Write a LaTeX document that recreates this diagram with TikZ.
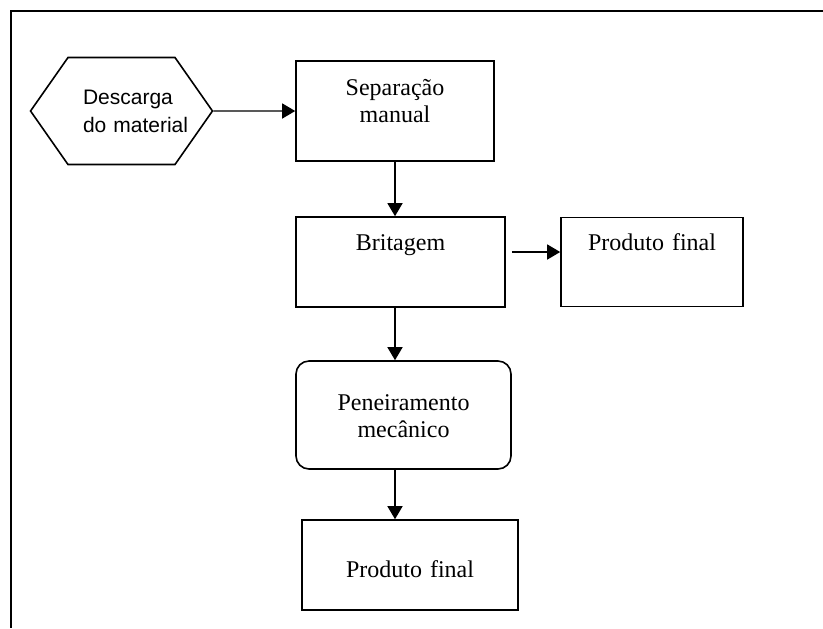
\documentclass[tikz,border=0pt]{standalone}
\usepackage{fontspec}
\setmainfont{Liberation Serif}
\newfontfamily\arialfont{Liberation Sans}
\usepackage{tikz}
\usetikzlibrary{shapes, shapes.symbols, arrows.meta}
\tikzstyle{start} = [signal, signal to=west and east, signal pointer angle=110,
    draw, line width=0.8pt, minimum width=90.5pt, minimum height=53.5pt,
    inner xsep=0pt, text width=53.5pt, align=left,
    font=\arialfont\fontsize{10.5}{14}\selectfont]
\tikzstyle{stage} = [rectangle, draw, line width=0.8pt, inner ysep=0pt,
    text width=80pt, align=center, font=\fontsize{12}{13.5}\selectfont]
\tikzstyle{sieve} = [stage, rounded corners=6.5pt]
\tikzstyle{line} = [draw, line width=0.7pt, -{Triangle[length=6.5pt,width=7.5pt]}]

\begin{document}
\begin{tikzpicture}[x=0.5pt, y=-0.5pt]
    \useasboundingbox (0,0) rectangle (823,628);
    % Frame
    \draw [line width=1.2pt] (823,11) -- (11,11) -- (11,628);
    % Nodes
    \node [start] (descarga) at (121.5,111) {\hspace*{7.5pt}\mbox{Descarga}\\\hspace*{7.5pt}\mbox{do material}};
    \node [stage, right of=descarga, node distance=136.75pt, minimum width=99pt,
        text height=17pt, text depth=33pt] (separacao) {Separação\\manual};
    \node [stage, below of=separacao, node distance=75.5pt, xshift=2.75pt, minimum width=104.5pt,
        text height=16.5pt, text depth=28.5pt] (britagem) {Britagem};
    \node [stage, right of=britagem, node distance=125.75pt, minimum width=91pt,
        text height=16.5pt, text depth=28pt] (produto1) {Produto final};
    \node [sieve, below of=britagem, node distance=76.5pt, xshift=1.5pt, minimum width=107.5pt,
        text height=24.5pt, text depth=29.5pt] (peneiramento) {Peneiramento\\mecânico};
    \node [stage, below of=peneiramento, node distance=75pt, xshift=3.25pt, minimum width=108pt,
        text height=28.5pt, text depth=16.5pt] (produto2) {Produto final};
    % Edges
    \path [line] (descarga) -- (separacao);
    \path [line] (separacao) -- (separacao |- britagem.north);
    \path [line] ([xshift=3pt,yshift=5pt]britagem.east) -- ([yshift=5pt]britagem.east -| produto1.west);
    \path [line] (britagem.south -| separacao) -- (peneiramento.north -| separacao);
    \path [line] (peneiramento.south -| separacao) -- (produto2.north -| separacao);
\end{tikzpicture}
\end{document}
